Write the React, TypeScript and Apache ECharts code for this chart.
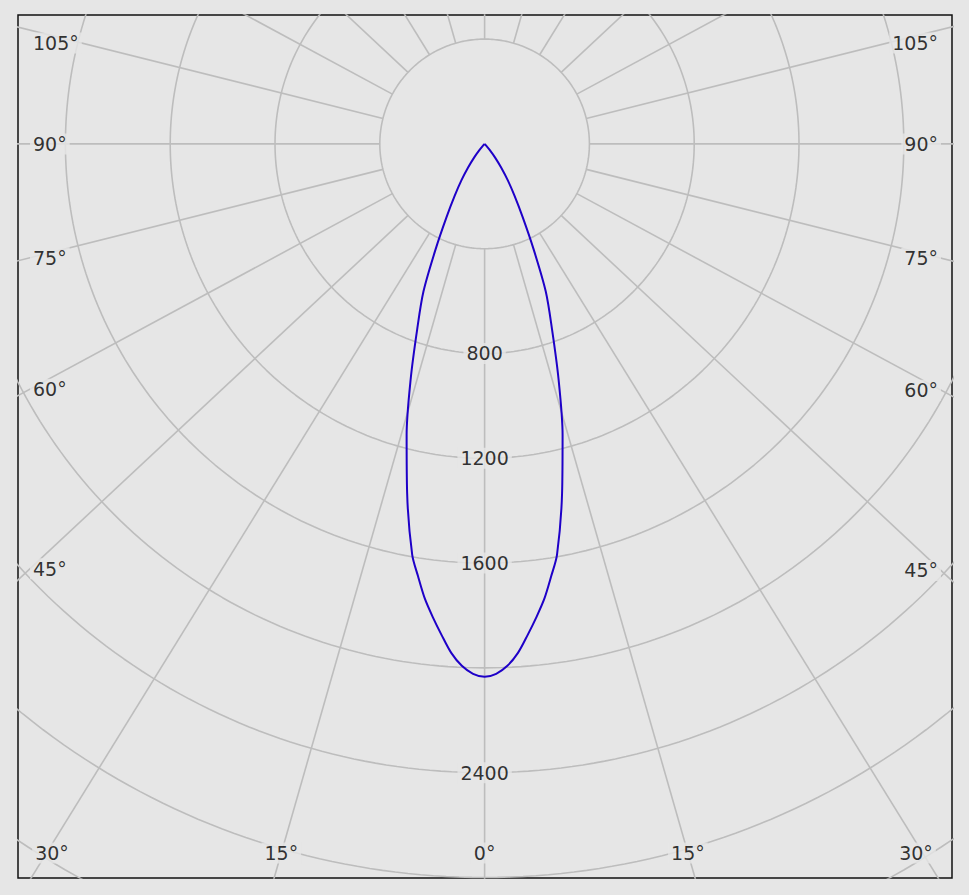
import React, { useEffect, useRef } from "react";
import * as echarts from "echarts";

// ---- data ----
const ringValues = [400, 800, 1200, 1600, 2000, 2400, 2800, 3200];
const ringLabelValues = [800, 1200, 1600, 2400];
const spokeAngles = [0, 15, 30, 45, 60, 75, 90, 105, 120, 135, 150, 165, 180, 195, 210, 225, 240, 255, 270, 285, 300, 315, 330, 345];
const angleLabels = [0, 15, 30, 45, 60, 75, 90, 105];
const gammaAngles = [0, 1.25, 2.5, 3.75, 5, 6.25, 7.5, 8.75, 10, 12.5, 15, 17.5, 20, 22.5, 25, 27.5, 30, 32.5, 35, 37.5, 40, 42.5, 45];
const intensity = [2034, 2023, 1994, 1947, 1882, 1817, 1750, 1670, 1592, 1366, 1150, 937, 752, 610, 440, 314, 228, 165, 110, 66, 30, 8, 0];

// ---- layout constants ----
const X_MIN = -1781;
const X_MAX = 1784;
const Y_MIN = -2802;
const Y_MAX = 492;
const CD_PER_PX = 400 / 104.8;
const SPOKE_STRETCH = 1.07;
const BG = "#e6e6e6";
const GRID_COLOR = "#bdbdbd";

const rad = (d: number) => (d * Math.PI) / 180;

function spokeDir(angle: number): [number, number] {
  const dx = SPOKE_STRETCH * Math.sin(rad(angle));
  const dy = -Math.cos(rad(angle));
  const n = Math.hypot(dx, dy);
  return [dx / n, dy / n];
}

export default function App() {
  const ref = useRef<HTMLDivElement>(null);

  useEffect(() => {
    if (!ref.current) return;
    const chart = echarts.init(ref.current, undefined, { renderer: "svg" });

    const series: any[] = [];

    // rings
    ringValues.forEach((r) => {
      const pts: number[][] = [];
      for (let a = 0; a <= 360; a += 1) {
        pts.push([r * Math.sin(rad(a)), -r * Math.cos(rad(a))]);
      }
      series.push({
        type: "line",
        data: pts,
        symbol: "none",
        silent: true,
        lineStyle: { color: GRID_COLOR, width: 1.6 },
        z: 1,
      });
    });

    // spokes
    const inner = ringValues[0];
    spokeAngles.forEach((a) => {
      const [dx, dy] = spokeDir(a);
      series.push({
        type: "line",
        data: [
          [inner * dx, inner * dy],
          [5000 * dx, 5000 * dy],
        ],
        symbol: "none",
        silent: true,
        lineStyle: { color: GRID_COLOR, width: 1.6 },
        z: 1,
      });
    });

    // intensity curve (symmetric)
    const curve: number[][] = [];
    for (let i = gammaAngles.length - 1; i >= 0; i--) {
      const a = -gammaAngles[i];
      curve.push([intensity[i] * Math.sin(rad(a)), -intensity[i] * Math.cos(rad(a))]);
    }
    for (let i = 1; i < gammaAngles.length; i++) {
      const a = gammaAngles[i];
      curve.push([intensity[i] * Math.sin(rad(a)), -intensity[i] * Math.cos(rad(a))]);
    }
    series.push({
      type: "line",
      data: curve,
      symbol: "none",
      smooth: 0.3,
      silent: true,
      lineStyle: { color: "#1e00c8", width: 2 },
      z: 5,
    });

    // labels
    const labelItems: any[] = [];
    ringLabelValues.forEach((r) => {
      labelItems.push({
        name: String(r),
        value: [0, -r],
        label: { align: "center" },
      });
    });
    const insetL = X_MIN + 12 * CD_PER_PX;
    const insetR = X_MAX - 11 * CD_PER_PX;
    const insetB = Y_MIN + 25 * CD_PER_PX;
    const topClamp = Y_MAX - 28 * CD_PER_PX;
    angleLabels.forEach((a) => {
      const sides = a === 0 ? [1] : [-1, 1];
      sides.forEach((s) => {
        const [ux, uy] = spokeDir(a);
        const dx = s * ux;
        const dy = uy;
        let tSide = Infinity;
        if (Math.abs(dx) > 1e-9) tSide = (s < 0 ? insetL : insetR) / dx;
        let tBot = Infinity;
        if (dy < -1e-9) tBot = insetB / dy;
        if (tBot <= tSide) {
          let x = tBot * dx;
          const half = 17 * CD_PER_PX;
          x = Math.max(insetL + half + 5 * CD_PER_PX, Math.min(insetR - half - 8 * CD_PER_PX, x));
          labelItems.push({ name: a + "°", value: [x, insetB], label: { align: "center" } });
        } else {
          let y = tSide * dy;
          y = Math.min(y, topClamp);
          labelItems.push({
            name: a + "°",
            value: [s < 0 ? insetL : insetR, y],
            label: { align: s < 0 ? "left" : "right" },
          });
        }
      });
    });

    series.push({
      type: "scatter",
      data: labelItems,
      symbol: "circle",
      symbolSize: 0,
      silent: true,
      itemStyle: { color: "transparent" },
      z: 10,
      label: {
        show: true,
        formatter: "{b}",
        position: [0, 0],
        verticalAlign: "middle",
        fontFamily: "DejaVu Sans",
        fontSize: 19,
        color: "#000",
        backgroundColor: BG,
        padding: [1, 3, 1, 3],
      },
    });

    chart.setOption({
      animation: false,
      backgroundColor: BG,
      grid: {
        left: 18,
        top: 15,
        width: 934,
        height: 863,
        show: true,
        borderColor: "#111",
        borderWidth: 1.5,
        backgroundColor: "transparent",
      },
      xAxis: { type: "value", min: X_MIN, max: X_MAX, show: false },
      yAxis: { type: "value", min: Y_MIN, max: Y_MAX, show: false },
      series,
    });

    return () => chart.dispose();
  }, []);

  return (
    <div
      ref={ref}
      style={{ position: "fixed", left: 0, top: 0, width: 969, height: 895 }}
    />
  );
}
